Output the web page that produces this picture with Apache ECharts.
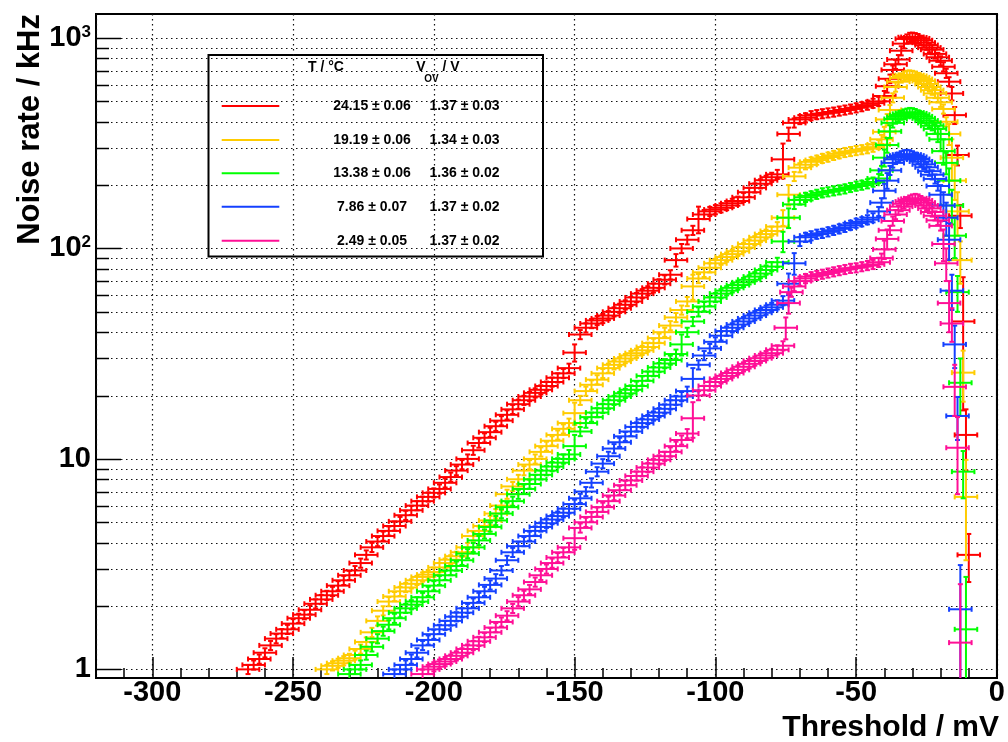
<!DOCTYPE html>
<html>
<head>
<meta charset="utf-8">
<title>Noise rate vs threshold</title>
<script src="https://cdn.jsdelivr.net/npm/echarts@6.0.0/dist/echarts.min.js"></script>
<style>
  html, body { margin: 0; padding: 0; background: #fff; }
  #chart { width: 1008px; height: 742px; }
</style>
</head>
<body>
<div id="chart"></div>
<script>
// threshold scans: [threshold mV, rate kHz, (optional) rate error kHz]
const red = [
  [-266,1.0],[-264,1.05],[-262,1.12],[-260,1.2],[-258,1.3],[-256,1.4],[-254,1.48],[-252,1.55],[-250,1.65],
  [-248,1.75],[-246,1.82],[-244,1.92],[-242,2.05],[-240,2.15],[-238,2.25],[-236,2.35],[-234,2.5],[-232,2.65],
  [-230,2.8],[-228,2.95],[-226,3.2],[-224,3.5],[-222,3.8],[-220,4.05],[-218,4.3],[-216,4.55],[-214,4.8],
  [-212,5.05],[-210,5.4],[-208,5.7],[-206,6.0],[-204,6.3],[-202,6.6],[-200,6.9],[-198,7.2],[-196,7.7],
  [-194,8.2],[-192,8.8],[-190,9.4],[-188,10.0],[-186,11.0],[-184,11.9],[-182,12.6],[-180,13.4],[-178,14.3],
  [-176,15.2],[-174,16.2],[-172,17.2],[-170,18.2],[-168,19.0],[-166,19.8],[-164,20.6],[-162,21.3],[-160,22.2],
  [-158,23.2],[-156,24.3],[-154,25.5],[-152,27],[-150,32,3],[-148,39],[-146,42],[-144,44],[-142,45.5],
  [-140,46.5],[-138,48],[-136,50],[-134,52],[-132,54],[-130,56],[-128,58.5],[-126,61],[-124,63],[-122,65],
  [-120,68],[-118,71],[-116,75],[-114,88,6],[-112,100],[-110,110],[-108,122],[-106,138,20],[-104,145],
  [-102,150],[-100,153],[-98,156],[-96,160],[-94,164],[-92,168],[-90,175],[-88,185],[-86,194],[-84,203],
  [-82,211],[-80,218],[-78,225],[-76,265,50],[-74,350,25],[-72,395],[-70,410],[-68,418],[-66,428],[-64,433],
  [-62,437],[-60,441],[-58,445],[-56,450],[-54,455],[-52,460],[-50,466],[-48,472],[-46,480],[-44,490],
  [-42,500],[-40,530,30],[-39,590,40],[-38,640,30],[-37,705,35],[-36,750],[-35,790],[-34,870],[-33,940],
  [-32,990],[-31,1008],[-30,1010],[-29,1005],[-28,995],[-27,975],[-26,950],[-25,925],[-24,900],[-23,880],
  [-22,840],[-21,810],[-20,780],[-19,730],[-18,680],[-17,620],[-16,545,40],[-15,430,40],[-14,278,30],
  [-13,143,18],[-12,45,28],[-11,13,4.2],[-10,3.5,0.9]
];
const yellow = [
  [-238,1.0],[-236,1.04],[-234,1.07],[-232,1.1],[-230,1.13],[-228,1.17],[-226,1.25],[-224,1.35],[-222,1.5],
  [-220,1.7],[-218,1.9],[-216,2.1],[-214,2.22],[-212,2.35],[-210,2.45],[-208,2.55],[-206,2.65],[-204,2.75],
  [-202,2.82],[-200,2.9],[-198,3.05],[-196,3.2],[-194,3.32],[-192,3.45],[-190,3.6],[-188,3.8],[-186,4.3],
  [-184,4.55],[-182,4.8],[-180,5.1],[-178,5.5],[-176,6.0],[-174,6.8],[-172,7.4],[-170,8.0],[-168,8.8],
  [-166,9.4],[-164,10.0],[-162,10.8],[-160,11.5],[-158,12.2],[-156,13.0],[-154,13.9],[-152,14.8],[-150,16.5,2],
  [-148,19],[-146,21],[-144,22.5],[-142,23.8],[-140,25.5],[-138,27],[-136,28],[-134,29],[-132,30],[-130,31],
  [-128,31.8],[-126,32.8],[-124,34],[-122,35.5],[-120,37.5],[-118,40],[-116,43],[-114,47],[-112,51],[-110,56],
  [-108,66,9],[-106,72],[-104,77],[-102,81],[-100,85],[-98,88],[-96,91],[-94,94],[-92,97],[-90,101],[-88,105],
  [-86,109],[-84,113],[-82,117],[-80,121],[-78,127],[-76,140,12],[-74,180,20],[-72,220],[-70,242],[-68,250],
  [-66,258],[-64,263],[-62,268],[-60,272],[-58,277],[-56,282],[-54,286],[-52,289],[-50,292],[-48,295],
  [-46,298],[-44,303],[-42,312],[-41,330],[-40,358,20],[-39,410,25],[-38,455,25],[-37,520],[-36,585],
  [-35,620],[-34,646],[-33,660],[-32,666],[-31,668],[-30,665],[-29,660],[-28,650],[-27,638],[-26,625],
  [-25,605],[-24,585],[-23,565],[-22,545],[-21,520],[-20,495],[-19,460],[-18,400],[-17,350,40],[-16,270,60],
  [-15,210,40],[-14,150,35],[-13,88,20],[-12,25.7,7],[-11,6.6,3.3]
];
const green = [
  [-230,0.95],[-228,1.0],[-226,1.05],[-224,1.17],[-222,1.28],[-220,1.4],[-218,1.52],[-216,1.63],[-214,1.75],
  [-212,1.86],[-210,1.95],[-208,2.03],[-206,2.1],[-204,2.2],[-202,2.35],[-200,2.5],[-198,2.65],[-196,2.8],
  [-194,2.95],[-192,3.1],[-190,3.3],[-188,3.55],[-186,3.8],[-184,4.1],[-182,4.4],[-180,4.75],[-178,5.1],
  [-176,5.5],[-174,5.9],[-172,6.3],[-170,6.8],[-168,7.2],[-166,7.6],[-164,8.0],[-162,8.4],[-160,8.8],
  [-158,9.2],[-156,9.6],[-154,10.0],[-152,10.5],[-150,11.5,1.5],[-148,13.5],[-146,14.8],[-144,15.8],
  [-142,16.6],[-140,17.4],[-138,18.2],[-136,19],[-134,19.8],[-132,20.5],[-130,21.3],[-128,22.2],[-126,23.5],
  [-124,24.8],[-122,26],[-120,27.2],[-118,28.4],[-116,29.5],[-114,31.5],[-112,35,4],[-110,40],[-108,45],
  [-106,50],[-104,53],[-102,56],[-100,58.5],[-98,61],[-96,63],[-94,65],[-92,67],[-90,69],[-88,71],[-86,73.5],
  [-84,76],[-82,79],[-80,82],[-78,86],[-76,108,12],[-74,140,15],[-72,162],[-70,170],[-68,175],[-66,178],
  [-64,181],[-62,184],[-60,186],[-58,188],[-56,190],[-54,192],[-52,195],[-50,198],[-48,200],[-46,203],
  [-44,207],[-42,215],[-41,235],[-40,270,25],[-39,310,25],[-38,360,25],[-37,395],[-36,412],[-35,422],
  [-34,430],[-33,436],[-32,440],[-31,443],[-30,442],[-29,438],[-28,432],[-27,424],[-26,415],[-25,405],
  [-24,395],[-23,383],[-22,370],[-21,350,30],[-20,330,40],[-19,290,40],[-18,255,30],[-17,210,30],
  [-16,160,30],[-15,115,25],[-14,62,12],[-13,23,7],[-12,8.7,2.2],[-11,1.55,1.2]
];
const blue = [
  [-214,0.95],[-212,1.0],[-210,1.05],[-208,1.12],[-206,1.2],[-204,1.3],[-202,1.38],[-200,1.47],[-198,1.55],
  [-196,1.62],[-194,1.7],[-192,1.78],[-190,1.86],[-188,1.95],[-186,2.07],[-184,2.2],[-182,2.35],[-180,2.52],
  [-178,2.7],[-176,2.95],[-174,3.3],[-172,3.6],[-170,3.85],[-168,4.05],[-166,4.3],[-164,4.55],[-162,4.75],
  [-160,4.95],[-158,5.15],[-156,5.35],[-154,5.55],[-152,5.8],[-150,6.1],[-148,6.5],[-146,7.0],[-144,7.7],
  [-142,8.7],[-140,9.5],[-138,10.3],[-136,11.2],[-134,12],[-132,12.8],[-130,13.5],[-128,14.2],[-126,14.8],
  [-124,15.4],[-122,16],[-120,16.6],[-118,17.3],[-116,18.1],[-114,19],[-112,19.8],[-110,21],[-108,24,3],
  [-106,28],[-104,31],[-102,33.5],[-100,36],[-98,38.5],[-96,40.5],[-94,42],[-92,43.5],[-90,45],[-88,46.5],
  [-86,48],[-84,49.5],[-82,51],[-80,52.5],[-78,54],[-76,56.5],[-74,68,8],[-72,85,10],[-70,108],[-68,113],
  [-66,115],[-64,117],[-62,118],[-60,120],[-58,122],[-56,124],[-54,126],[-52,129],[-50,132],[-48,134],
  [-46,137],[-44,140],[-42,150],[-41,165],[-40,188,15],[-39,210,18],[-38,235],[-37,255],[-36,265],[-35,272],
  [-34,276],[-33,279],[-32,280],[-31,279],[-30,276],[-29,272],[-28,266],[-27,259],[-26,251],[-25,243],
  [-24,233],[-23,224],[-22,214],[-21,198],[-20,180,20],[-19,160,25],[-18,140,25],[-17,110,22],[-16,63,12],
  [-15,35,8],[-14,16,3.7],[-13,1.93,1.2]
];
const pink = [
  [-204,0.95],[-202,1.0],[-200,1.03],[-198,1.06],[-196,1.09],[-194,1.12],[-192,1.16],[-190,1.2],[-188,1.25],
  [-186,1.3],[-184,1.36],[-182,1.42],[-180,1.5],[-178,1.58],[-176,1.68],[-174,1.8],[-172,1.95],[-170,2.1],
  [-168,2.25],[-166,2.4],[-164,2.6],[-162,2.8],[-160,3.0],[-158,3.2],[-156,3.4],[-154,3.6],[-152,3.8],
  [-150,4.2,0.5],[-148,4.7],[-146,5.0],[-144,5.3],[-142,5.6],[-140,5.9],[-138,6.3],[-136,6.7],[-134,7.1],
  [-132,7.5],[-130,7.9],[-128,8.3],[-126,8.7],[-124,9.1],[-122,9.5],[-120,9.9],[-118,10.3],[-116,10.8],
  [-114,11.5],[-112,12.3],[-110,13.2],[-108,15.6,3],[-106,20],[-104,21.2],[-102,22.2],[-100,23.2],[-98,24],
  [-96,24.8],[-94,25.6],[-92,26.5],[-90,27.4],[-88,28.3],[-86,29.2],[-84,30.1],[-82,31],[-80,31.8],[-78,33],
  [-76,34.5],[-75,42,5],[-74,55,6],[-73,62],[-72,66],[-70,70],[-68,72],[-66,73.5],[-64,74.5],[-62,75.5],
  [-60,76.5],[-58,77.5],[-56,78.5],[-54,79.5],[-52,80.5],[-50,81],[-48,82],[-46,83],[-44,84],[-42,86],
  [-41,90],[-40,99,10],[-39,111,12],[-38,122],[-37,135],[-36,145],[-35,152],[-34,158],[-33,163],[-32,167],
  [-31,170],[-30,172],[-29,173],[-28,172],[-27,169],[-26,165],[-25,160],[-24,155],[-23,149],[-22,143],
  [-21,136],[-20,128],[-19,105,18],[-18,85,15],[-17,55,15],[-16,44,8],[-15,22,6],[-14,11.3,4.5],[-13,1.34,1.2]
];

const scanNames = ["24.15 °C", "19.19 °C", "13.38 °C", "7.86 °C", "2.49 °C"];
const tempLabels = ["24.15 ± 0.06", "19.19 ± 0.06", "13.38 ± 0.06", "7.86 ± 0.07", "2.49 ± 0.05"];
const vovLabels = ["1.37 ± 0.03", "1.34 ± 0.03", "1.36 ± 0.02", "1.37 ± 0.02", "1.37 ± 0.02"];
const scanColors = ["#ff0000", "#ffcc00", "#00ff00", "#1440ff", "#ff0f96"];
const scans = [red, yellow, green, blue, pink];

// log axis grid values: decades get long ticks, 2..9 short ones
const yMajor = [1, 10, 100, 1000];
const yMinor = [2,3,4,5,6,7,8,9, 20,30,40,50,60,70,80,90, 200,300,400,500,600,700,800,900];

const X_MIN = -320, X_MAX = 0;
const Y_MIN = 0.91, Y_MAX = 1300;
const X_HALF = 4;       // threshold uncertainty, mV
const REL_ERR = 0.05;   // default rate error
const CAP = 2.5;
const LINE_W = 2;
const DOT = [1.5, 3.5];
const FONT = '"Liberation Sans", Arial, Helvetica, sans-serif';

const chart = echarts.init(document.getElementById("chart"), null, { renderer: "canvas" });

function seg(x1, y1, x2, y2, color, w, dash) {
  const style = { stroke: color, lineWidth: w };
  if (dash) style.lineDash = dash;
  return { type: "line", shape: { x1, y1, x2, y2 }, style };
}

function crossRenderer(color) {
  return function (params, api) {
    const cs = params.coordSys;
    const top = cs.y, bottom = cs.y + cs.height;
    const x = api.value(0), y = api.value(1), err = api.value(2);
    const c = api.coord([x, y]);
    const xl = api.coord([x - X_HALF, y])[0];
    const xr = api.coord([x + X_HALF, y])[0];
    const hi = Math.max(api.coord([x, y + err])[1], top);
    const lo = y - err > 0 ? Math.min(api.coord([x, y - err])[1], bottom) : bottom;
    const kids = [seg(c[0], hi, c[0], lo, color, LINE_W)];
    if (c[1] < bottom) {
      kids.push(seg(xl, c[1], xr, c[1], color, LINE_W));
      kids.push(seg(xl, c[1] - CAP, xl, c[1] + CAP, color, LINE_W));
      kids.push(seg(xr, c[1] - CAP, xr, c[1] + CAP, color, LINE_W));
    }
    if (hi > top) kids.push(seg(c[0] - CAP, hi, c[0] + CAP, hi, color, LINE_W));
    if (lo < bottom) kids.push(seg(c[0] - CAP, lo, c[0] + CAP, lo, color, LINE_W));
    return { type: "group", children: kids };
  };
}

function decadeLabel(v) {
  const p = Math.log10(v);
  if (Math.abs(p - Math.round(p)) > 1e-6) return "";
  const n = Math.round(p);
  if (n === 0) return "1";
  if (n === 1) return "10";
  return "10{sup|" + n + "}";
}

const dataSeries = scans.map((pts, i) => ({
  type: "custom",
  name: scanNames[i],
  z: 3 + i,
  renderItem: crossRenderer(scanColors[i]),
  encode: { x: 0, y: 1 },
  data: pts.map(p => [p[0], p[1], p.length > 2 ? p[2] : p[1] * REL_ERR])
}));

// dotted grid + inside ticks of the log axis, one item per tick value
const yGrid = {
  type: "custom",
  name: "y grid",
  silent: true,
  z: 1,
  encode: { x: 0, y: 1 },
  data: yMajor.map(v => [X_MIN, v, 25]).concat(yMinor.map(v => [X_MIN, v, 13])),
  renderItem: function (params, api) {
    const cs = params.coordSys;
    const y = Math.round(api.coord([api.value(0), api.value(1)])[1]) + 0.5;
    return {
      type: "group",
      children: [
        seg(cs.x, y, cs.x + cs.width, y, "#111", 1.2, DOT),
        seg(cs.x, y, cs.x + api.value(2), y, "#000", 1.5)
      ]
    };
  }
};

// legend box
const legendKids = [
  { type: "rect", shape: { x: 208.5, y: 55, width: 334.5, height: 201.5 },
    style: { fill: "#fff", stroke: "#000", lineWidth: 2 } },
  { type: "text", x: 326, y: 67, style: { text: "T / °C", font: "bold 14px " + FONT, fill: "#000", align: "center", verticalAlign: "middle" } },
  { type: "text", x: 421, y: 67, style: { text: "V", font: "bold 14px " + FONT, fill: "#000", align: "center", verticalAlign: "middle" } },
  { type: "text", x: 431.5, y: 79.5, style: { text: "OV", font: "bold 10px " + FONT, fill: "#000", align: "center", verticalAlign: "middle" } },
  { type: "text", x: 451, y: 67, style: { text: "/ V", font: "bold 14px " + FONT, fill: "#000", align: "center", verticalAlign: "middle" } }
];
const rowY = [106, 140, 173.3, 206.7, 240.7];
tempLabels.forEach((t, i) => {
  legendKids.push(seg(221.7, rowY[i], 279.3, rowY[i], scanColors[i], 2));
  legendKids.push({ type: "text", x: 372, y: rowY[i], style: { text: t, font: "bold 14px " + FONT, fill: "#000", align: "center", verticalAlign: "middle" } });
  legendKids.push({ type: "text", x: 464.5, y: rowY[i], style: { text: vovLabels[i], font: "bold 14px " + FONT, fill: "#000", align: "center", verticalAlign: "middle" } });
});

chart.setOption({
  animation: false,
  backgroundColor: "#fff",
  grid: { left: 96, top: 14, width: 905, height: 664, show: true, borderColor: "#000", borderWidth: 2 },
  xAxis: {
    type: "value",
    min: X_MIN,
    max: X_MAX,
    splitNumber: 5,
    axisLine: { show: true, onZero: false, lineStyle: { color: "#000", width: 2 } },
    axisTick: { show: true, inside: true, length: 21, lineStyle: { color: "#000", width: 1.5 } },
    minorTick: { show: true, splitNumber: 5, length: 10, lineStyle: { color: "#000", width: 1.5 } },
    splitLine: { show: true, lineStyle: { color: "#111", width: 1.2, type: DOT } },
    axisLabel: {
      color: "#000", fontFamily: FONT, fontWeight: "bold", fontSize: 29, margin: 0,
      formatter: v => (v % 50 === 0 ? String(v) : "")
    }
  },
  yAxis: {
    type: "log",
    logBase: 10,
    min: Y_MIN,
    max: Y_MAX,
    axisLine: { show: true, lineStyle: { color: "#000", width: 2 } },
    axisTick: { show: false },
    splitLine: { show: false },
    axisLabel: {
      color: "#000", fontFamily: FONT, fontWeight: "bold", fontSize: 29, margin: 5,
      formatter: decadeLabel,
      rich: { sup: { fontSize: 17, fontWeight: "bold", fontFamily: FONT, color: "#000", verticalAlign: "top" } }
    }
  },
  graphic: [
    { type: "group", z: 100, children: legendKids },
    { type: "text", x: 999, y: 728, z: 100,
      style: { text: "Threshold / mV", font: "bold 30px " + FONT, fill: "#000", align: "right", verticalAlign: "middle" } },
    { type: "text", x: 30, y: 14, rotation: Math.PI / 2, z: 100,
      style: { text: "Noise rate / kHz", font: "bold 31px " + FONT, fill: "#000", align: "right", verticalAlign: "middle" } }
  ],
  series: [yGrid].concat(dataSeries)
});

window.addEventListener("resize", () => chart.resize());
</script>
</body>
</html>
